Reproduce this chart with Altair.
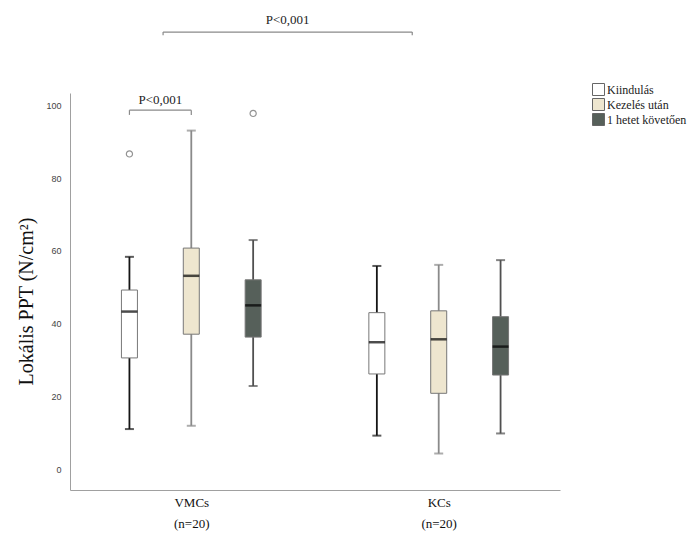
import altair as alt
import pandas as pd

groups = ["VMCs", "KCs"]
group_pos = [1, 2]
conditions = ["Kiindulás", "Kezelés után", "1 hetet követően"]
cond_offset = [-0.25, 0.0, 0.25]
fills = ["#ffffff", "#eee6cf", "#56605a"]
whisker_colors = ["#151515", "#8a8a8a", "#505050"]

lower = [[11.2, 12.1, 23.0], [9.4, 4.5, 10.0]]
q1 = [[30.7, 37.2, 36.4], [26.3, 21.0, 26.0]]
median = [[43.4, 53.2, 45.1], [35.0, 35.8, 33.8]]
q3 = [[49.3, 60.8, 52.1], [43.1, 43.6, 42.0]]
upper = [[58.4, 93.0, 63.0], [55.9, 56.2, 57.5]]

outlier_group = [0, 0]
outlier_cond = [0, 2]
outlier_value = [86.6, 97.7]

# significance brackets
br_x1 = [0.75, 0.886]
br_x2 = [1.0, 1.893]
br_y = [98.6, 120.0]
br_tip = [97.3, 119.1]
br_text_y = [101.5, 123.3]
br_text = ["P<0,001", "P<0,001"]

rows = []
for gi, g in enumerate(groups):
    for ci, c in enumerate(conditions):
        rows.append(dict(group=g, cond=c, x=group_pos[gi] + cond_offset[ci],
                         lo=lower[gi][ci], q1=q1[gi][ci], med=median[gi][ci],
                         q3=q3[gi][ci], hi=upper[gi][ci], wc=whisker_colors[ci]))
df = pd.DataFrame(rows)

out_df = pd.DataFrame(dict(
    x=[group_pos[g] + cond_offset[c] for g, c in zip(outlier_group, outlier_cond)],
    v=outlier_value))

br_df = pd.DataFrame(dict(x1=br_x1, x2=br_x2, y=br_y, tip=br_tip,
                          ty=br_text_y, t=br_text,
                          xm=[(a + b) / 2 for a, b in zip(br_x1, br_x2)]))
tips_df = pd.DataFrame(dict(x=br_x1 + br_x2, y=br_y + br_y, tip=br_tip + br_tip))

xscale = alt.Scale(domain=[0.53, 2.47], nice=False, zero=False)
yscale = alt.Scale(domain=[-5.5, 103.3], nice=False, zero=False)

label_expr = ("datum.value == 1 ? ['" + groups[0] + "', '(n=20)'] : ['" + groups[1] + "', '(n=20)']")

xaxis = alt.Axis(values=group_pos, labelExpr=label_expr, title=None, ticks=False,
                 grid=False, domainColor="#a0a0a0", labelFont="Liberation Serif",
                 labelFontSize=13, labelColor="#111", labelPadding=6,
                 labelLineHeight=21, labelAngle=0, labelBaseline="top")
yaxis = alt.Axis(values=[0, 20, 40, 60, 80, 100], title="Lokális PPT (N/cm²)",
                 ticks=False, grid=False, domainColor="#a0a0a0",
                 labelFont="Liberation Sans", labelFontSize=9, labelColor="#444",
                 labelPadding=9, titleFont="Liberation Serif", titleFontSize=20,
                 titleFontWeight="normal", titleColor="#111", titleAngle=-90,
                 titleX=-44, titleY=208, titleAlign="center", titleBaseline="middle")


def X(f):
    return alt.X(f, scale=xscale, axis=xaxis, title=None)


def Y(f):
    return alt.Y(f, scale=yscale, axis=yaxis, title="Lokális PPT (N/cm²)")


base = alt.Chart(df)

whisk = base.mark_rule(strokeWidth=1.8).encode(
    x=X("x:Q"), y=Y("lo:Q"), y2="hi:Q",
    color=alt.Color("wc:N", scale=None))

caps_lo = base.mark_tick(size=9, thickness=2, orient="horizontal").encode(
    x=X("x:Q"), y=Y("lo:Q"), color=alt.Color("wc:N", scale=None))
caps_hi = base.mark_tick(size=9, thickness=2, orient="horizontal").encode(
    x=X("x:Q"), y=Y("hi:Q"), color=alt.Color("wc:N", scale=None))

boxes = base.mark_bar(width=16, stroke="#777777", strokeWidth=1).encode(
    x=X("x:Q"), y=Y("q1:Q"), y2="q3:Q",
    fill=alt.Fill("cond:N", scale=alt.Scale(domain=conditions, range=fills),
                  legend=alt.Legend(title=None, orient="none", legendX=522, legendY=-10,
                                    symbolType="square", symbolSize=144,
                                    symbolStrokeColor="#666666", symbolStrokeWidth=1,
                                    labelFont="Liberation Serif", labelFontSize=12,
                                    labelColor="#222", labelOffset=2, rowPadding=-4)))

meds = base.mark_tick(size=16, thickness=2.5, color="#000000", orient="horizontal").encode(
    x=X("x:Q"), y=Y("med:Q"))

outs = alt.Chart(out_df).mark_point(shape="circle", size=38, filled=False,
                                    color="#666666", strokeWidth=1.2).encode(
    x=X("x:Q"), y=Y("v:Q"))

br_lines = alt.Chart(br_df).mark_rule(color="#8a8a8a", strokeWidth=1.2).encode(
    x=X("x1:Q"), x2="x2:Q", y=Y("y:Q"))
br_tips = alt.Chart(tips_df).mark_rule(color="#8a8a8a", strokeWidth=1.2).encode(
    x=X("x:Q"), y=Y("y:Q"), y2="tip:Q")
br_texts = alt.Chart(br_df).mark_text(font="Liberation Serif", fontSize=13,
                                      color="#222", baseline="middle").encode(
    x=X("xm:Q"), y=Y("ty:Q"), text="t:N")

chart = alt.layer(whisk, caps_lo, caps_hi, boxes, meds, outs, br_lines, br_tips, br_texts).properties(
    width=490, height=397,
    background="#ffffff",
    autosize=alt.AutoSizeParams(type="none"),
    padding={"left": 70, "top": 93, "right": 130, "bottom": 47},
).configure_view(stroke="transparent", strokeWidth=0)

chart.save("out.html", embed_options={"renderer": "svg", "actions": False})
